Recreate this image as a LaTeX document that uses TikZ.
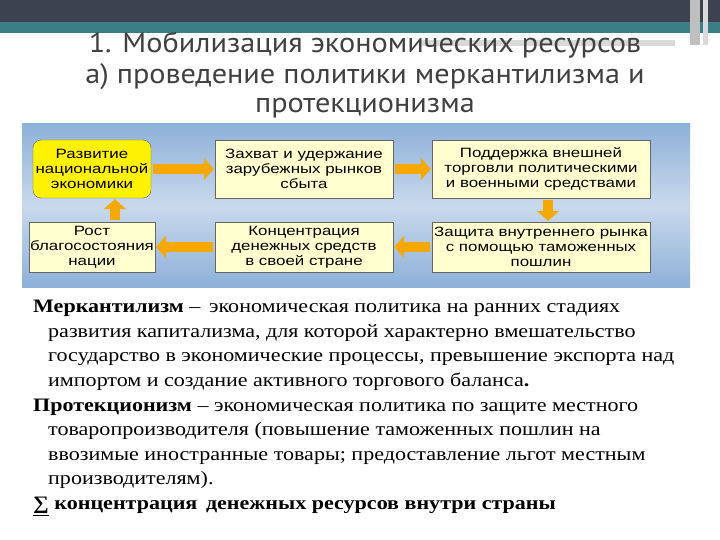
\documentclass[tikz,border=0pt]{standalone}
\usepackage{fontspec}
\setmainfont{Liberation Serif}
\newfontfamily\bodyfont[FakeStretch=1.16]{Liberation Serif}
\newfontfamily\titlefont[FakeStretch=1.08]{PT Sans}
\newfontfamily\boxfont[FakeStretch=1.25]{Liberation Sans}
\usetikzlibrary{arrows.meta}
\definecolor{darkbar}{HTML}{3D4250}
\definecolor{tealbar}{HTML}{3A7F86}
\definecolor{panelA}{HTML}{8DB0D8}
\definecolor{panelB}{HTML}{C9D9EC}
\definecolor{boxfill}{HTML}{FFFFD0}
\definecolor{yel}{HTML}{FFF200}
\definecolor{arr}{HTML}{F5A800}
\definecolor{titlegray}{HTML}{404040}
\tikzset{
  box/.style={draw=black!60, fill=boxfill, minimum width=115pt, minimum height=58pt, font=\boxfont\fontsize{13.5}{15}\selectfont, align=center, inner sep=1pt},
  fat/.style={draw=arr, line width=10pt, -{Triangle[width=22pt,length=10pt]}, shorten <=2pt, shorten >=1pt},
  ttl/.style={font=\titlefont\fontsize{28}{30}\selectfont, text=titlegray},
  body/.style={anchor=north west, align=left, font=\bodyfont\fontsize{19}{24.6}\selectfont, inner sep=0pt}
}
\begin{document}
\begin{tikzpicture}[x=1pt,y=-1pt]
\useasboundingbox (0,0) rectangle (720,540);
\fill[white] (0,0) rectangle (720,540);
\fill[darkbar] (0,0) rectangle (720,22);
\fill[tealbar] (0,22) rectangle (720,33);
\fill[black!15] (420,40) rectangle (675,46);
\fill[black!25] (690,0) rectangle (700,45);
\fill[black!15] (703,0) rectangle (708,45);
\node[ttl] (t1) at (365,45) {1. Мобилизация экономических ресурсов};
\node[ttl] (t2) at (365,77) {а) проведение политики меркантилизма и};
\node[ttl] (t3) at (365,108) {протекционизма};
\shade[top color=panelA, bottom color=panelA, middle color=panelB] (22,124) rectangle (690,287);
\node[box, fill=yel, rounded corners=8pt, minimum width=118pt] (b1) at (92,169) {Развитие\\национальной\\экономики};
\node[box, minimum width=178pt] (b2) at (304,169) {Захват и удержание\\зарубежных рынков\\сбыта};
\node[box, minimum width=218pt] (b3) at (541,169) {Поддержка внешней\\торговли политическими\\и военными средствами};
\node[box, minimum width=118pt, minimum height=50pt] (b4) at (92,247) {Рост\\благосостояния\\нации};
\node[box, minimum width=178pt, minimum height=50pt] (b5) at (304,247) {Концентрация\\денежных средств\\в своей стране};
\node[box, minimum width=218pt, minimum height=50pt] (b6) at (541,247) {Защита внутреннего рынка\\с помощью таможенных\\пошлин};
\draw[fat] (b1) -- (b2);
\draw[fat] (b2) -- (b3);
\draw[fat] (b3.south -| 548,0) -- (b6.north -| 548,0);
\draw[fat] (b6) -- (b5);
\draw[fat] (b5) -- (b4);
\draw[fat] (b4.north -| 115,0) -- (b1.south -| 115,0);
\node[body] (txt) at (33,300) {%
\textbf{Меркантилизм} – \,экономическая политика на ранних стадиях\\
\hspace*{15pt}развития капитализма, для которой характерно вмешательство\\
\hspace*{15pt}государство в экономические процессы, превышение экспорта над\\
\hspace*{15pt}импортом и создание активного торгового баланса\textbf{.}\\
\textbf{Протекционизм} – экономическая политика по защите местного\\
\hspace*{15pt}товаропроизводителя (повышение таможенных пошлин на\\
\hspace*{15pt}ввозимые иностранные товары; предоставление льгот местным\\
\hspace*{15pt}производителям).\\
\textbf{\underline{∑} концентрация\, денежных ресурсов внутри страны}};
\end{tikzpicture}
\end{document}
